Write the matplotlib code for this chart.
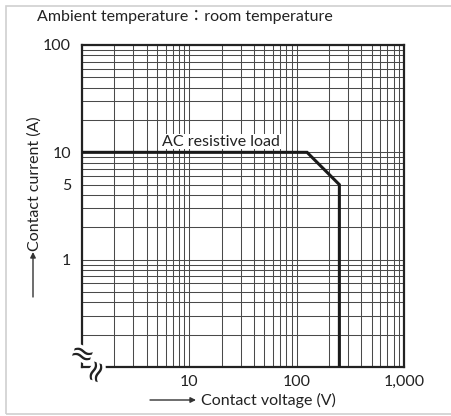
import matplotlib.pyplot as plt
import matplotlib.patheffects as pe
from matplotlib.ticker import LogLocator, NullFormatter, FixedLocator
from matplotlib.patches import Rectangle

# ---------- dados ----------
curve_v = [1, 125, 250, 250]      # tensão de contato (V)
curve_i = [10, 10, 5, 0.1]        # corrente de contato (A)
xticks = [10, 100, 1000]
xticklabels = ["10", "100", "1,000"]
yticks = [1, 5, 10, 100]
yticklabels = ["1", "5", "10", "100"]

FONT = ["Lato", "Noto Sans CJK JP", "DejaVu Sans"]
plt.rcParams["font.family"] = FONT
plt.rcParams["font.size"] = 11.5
TXT = "#222222"

fig = plt.figure(figsize=(4.52, 4.16), dpi=100)
ax = fig.add_axes([82/452, 1-367/416, 322/452, 322/416])

# moldura cinza
fig.patches.append(Rectangle((6/452, 2/416), 1.2, 1-8/416, transform=fig.transFigure,
                             fill=False, edgecolor="#d0d0d0", lw=1.2))

ax.set_xscale("log")
ax.set_yscale("log")
ax.set_xlim(1, 1000)
ax.set_ylim(0.1, 100)

ax.xaxis.set_major_locator(FixedLocator(xticks))
ax.set_xticklabels(xticklabels)
ax.yaxis.set_major_locator(FixedLocator(yticks))
ax.set_yticklabels(yticklabels)
for a in (ax.xaxis, ax.yaxis):
    a.set_minor_locator(LogLocator(base=10, subs=range(1, 10)))
    a.set_minor_formatter(NullFormatter())
ax.tick_params(which="both", length=0, colors=TXT, labelsize=11.5)
ax.tick_params(axis="x", pad=6)
ax.tick_params(axis="y", pad=8)

ax.grid(which="both", color="#4a4a4a", lw=0.75)
ax.set_axisbelow(True)
for s in ax.spines.values():
    s.set_linewidth(1.6)
    s.set_color("#222222")

# curva
ax.plot(curve_v, curve_i, color="#1a1a1a", lw=2.2, solid_joinstyle="miter", zorder=3)
ax.text(5.57, 11.5, "AC resistive load", fontsize=11.5, color=TXT, va="baseline",
        bbox=dict(facecolor="white", edgecolor="none", pad=0.5), zorder=4)

# marcas de quebra de eixo
halo = [pe.withStroke(linewidth=5, foreground="white")]
ax.text(1, 0.148, "≈", fontsize=21, color="#222222", ha="center", va="center_baseline",
        rotation=-20, family="DejaVu Sans", clip_on=False, zorder=5, path_effects=halo)
ax.text(1.38, 0.1, "≈", fontsize=21, color="#222222", ha="center", va="center_baseline",
        rotation=70, family="DejaVu Sans", clip_on=False, zorder=5, path_effects=halo)

# títulos
fig.text(37/452, 1-21/416, "Ambient temperature：room temperature", fontsize=11.5,
         color=TXT, va="baseline", ha="left")
fig.text(201/452, 1-400/416, "Contact voltage (V)", fontsize=11.5, color=TXT,
         va="center", ha="left")
fig.text(35/452, 1-184/416, "Contact current (A)", fontsize=11.5, color=TXT,
         va="center", ha="center", rotation=90)

arrow = dict(arrowstyle="-|>", color="#333333", lw=1, mutation_scale=8, shrinkA=0, shrinkB=0)
ax.annotate("", xy=(196/452, 1-400/416), xytext=(150/452, 1-400/416),
            xycoords="figure fraction", textcoords="figure fraction", arrowprops=arrow)
ax.annotate("", xy=(33/452, 1-252/416), xytext=(33/452, 1-297/416),
            xycoords="figure fraction", textcoords="figure fraction", arrowprops=arrow)

fig.savefig("out.png", dpi=100)
